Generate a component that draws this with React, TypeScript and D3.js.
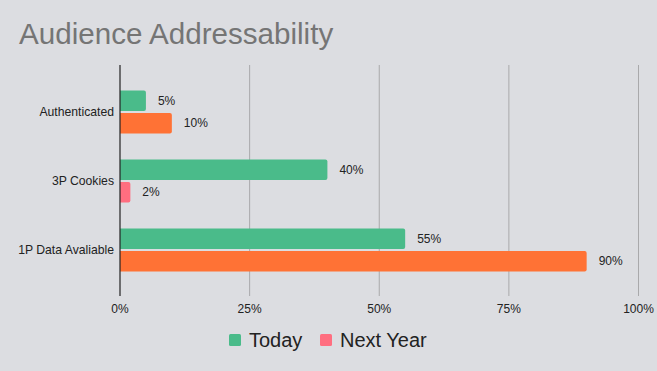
import React, { useEffect } from 'react';
import * as d3 from 'd3';

const categories = ['Authenticated', '3P Cookies', '1P Data Avaliable'];
const series = ['Today', 'Next Year'];
const todayValues = [5, 40, 55];
const nextYearValues = [10, 2, 90];
const xTicks = [0, 25, 50, 75, 100];

// colours (Next Year bars are coloured per point in the original)
const todayColor = '#4abb8a';
const nextYearColors = ['#ff7235', '#ff6e80', '#ff7235'];
const legendColors = [todayColor, '#ff6e80'];

const W = 657;
const H = 371;
const FONT = '"Liberation Sans", Arial, sans-serif';

const App = () => {
  useEffect(() => {
    document.body.style.margin = '0';
  }, []);

  const x = d3.scaleLinear().domain([0, 100]).range([120, 638.5]);
  const y = d3.scaleBand().domain(categories).range([77.5, 284.5]).padding(0);
  const inner = d3
    .scaleBand()
    .domain(series)
    .range([y.bandwidth() / 2 - 21.5, y.bandwidth() / 2 + 21.5])
    .paddingInner(0.08);

  const gridTop = 65;
  const gridBottom = 296;

  const bars = categories.flatMap((c, i) => [
    { cat: c, s: 'Today', v: todayValues[i], color: todayColor },
    { cat: c, s: 'Next Year', v: nextYearValues[i], color: nextYearColors[i] },
  ]);

  return (
    <svg width={W} height={H} style={{ display: 'block', background: '#dcdde1' }}>
      <rect width={W} height={H} fill="#dcdde1" />
      <text x={19} y={44} fontFamily={FONT} fontSize={29.6} fill="#757575">
        Audience Addressability
      </text>

      {xTicks.slice(1).map((t) => (
        <line
          key={t}
          x1={x(t)}
          x2={x(t)}
          y1={gridTop}
          y2={gridBottom}
          stroke="#a9a9ab"
          strokeWidth={1}
        />
      ))}

      {bars.map((b) => {
        const by = (y(b.cat) as number) + (inner(b.s) as number);
        const w = x(b.v) - x(0);
        const bh = inner.bandwidth();
        return (
          <g key={b.cat + b.s}>
            <path
              d={`M${x(0)},${by} H${x(0) + w - 2} Q${x(0) + w},${by} ${x(0) + w},${by + 2} V${by + bh - 2} Q${x(0) + w},${by + bh} ${x(0) + w - 2},${by + bh} H${x(0)} Z`}
              fill={b.color}
            />
            <text
              x={x(b.v) + 12}
              y={by + bh / 2}
              dy="0.35em"
              fontFamily={FONT}
              fontSize={12}
              fill="#222"
            >
              {b.v}%
            </text>
          </g>
        );
      })}

      <line x1={x(0)} x2={x(0)} y1={gridTop} y2={gridBottom} stroke="#222" strokeWidth={1.2} />

      {categories.map((c) => (
        <text
          key={c}
          x={114}
          y={(y(c) as number) + y.bandwidth() / 2}
          dy="0.35em"
          textAnchor="end"
          fontFamily={FONT}
          fontSize={12.2}
          fill="#222"
        >
          {c}
        </text>
      ))}

      {xTicks.map((t) => (
        <text
          key={t}
          x={x(t)}
          y={313}
          textAnchor="middle"
          fontFamily={FONT}
          fontSize={12}
          fill="#222"
        >
          {t}%
        </text>
      ))}

      {series.map((s, i) => {
        const lx = i === 0 ? 229 : 320;
        return (
          <g key={s}>
            <rect x={lx} y={334} width={12} height={12} rx={1.5} fill={legendColors[i]} />
            <text x={lx + 20} y={347} fontFamily={FONT} fontSize={20} fill="#222">
              {s}
            </text>
          </g>
        );
      })}
    </svg>
  );
};

export default App;
